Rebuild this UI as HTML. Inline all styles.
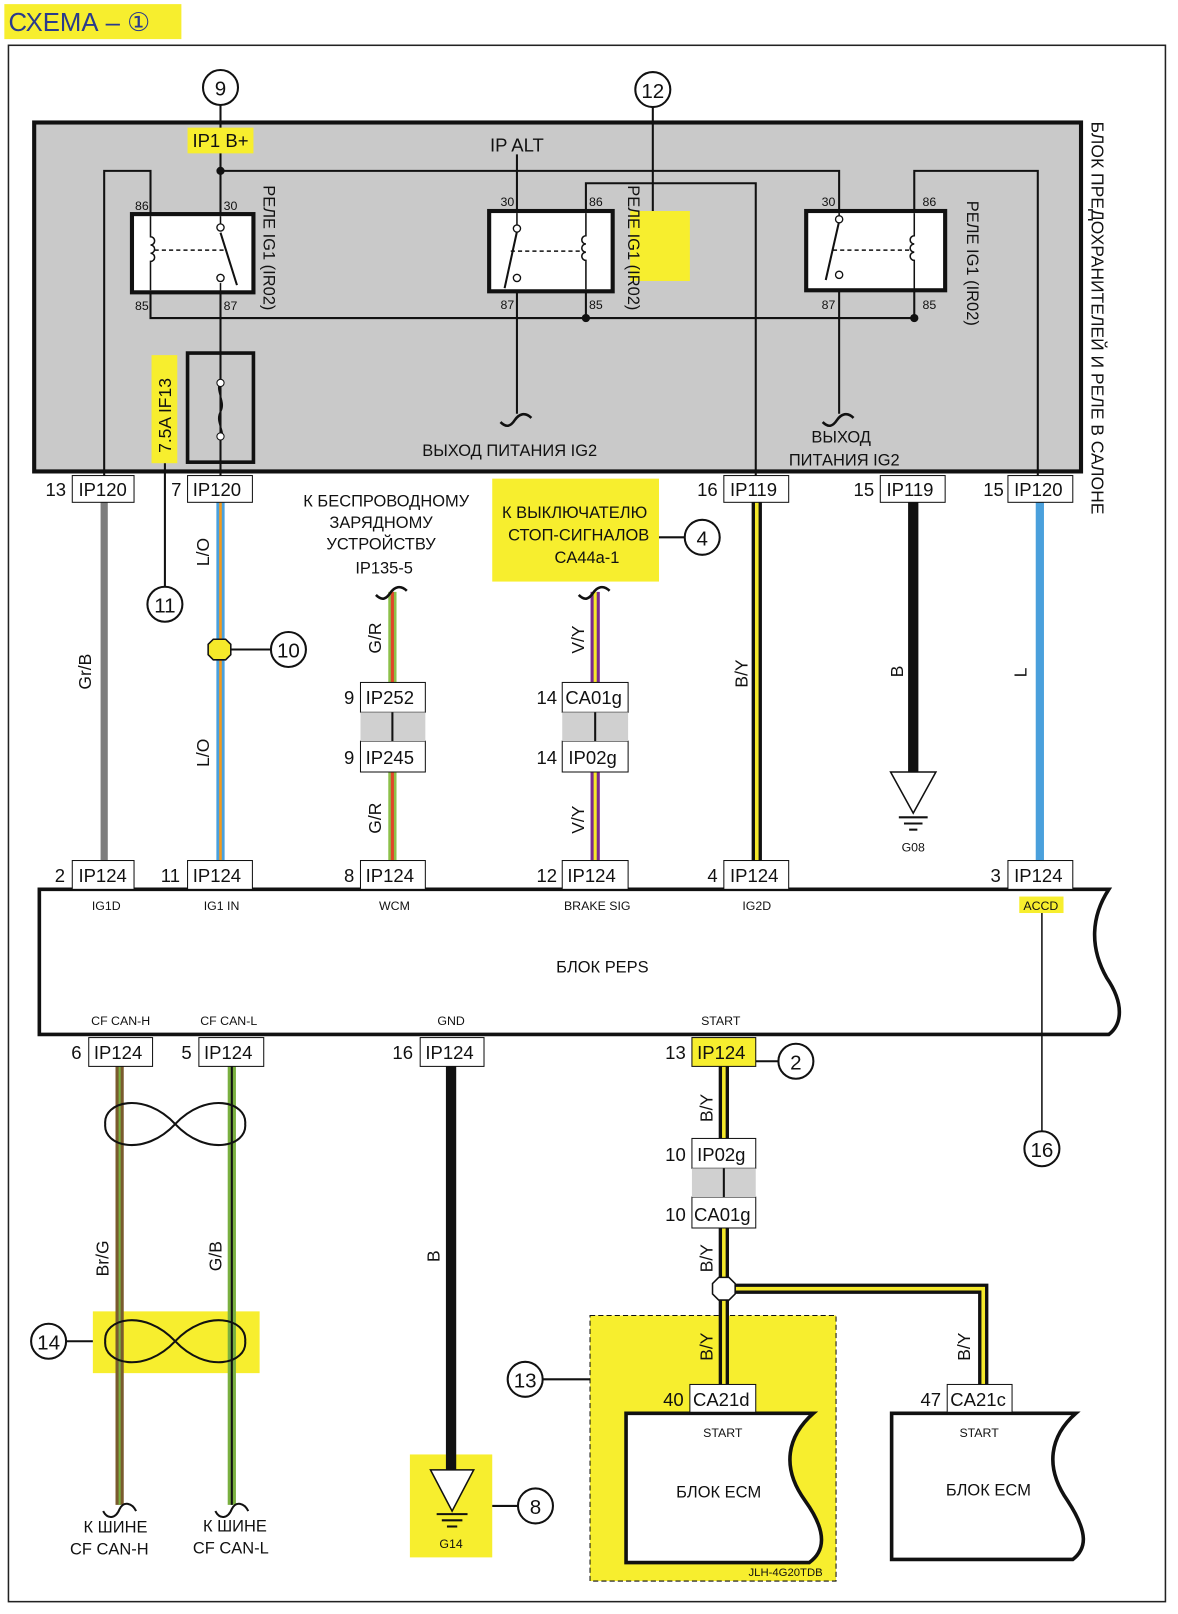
<!DOCTYPE html>
<html><head><meta charset="utf-8"><style>
html,body{margin:0;padding:0;background:#fff}
svg{display:block}
text{font-family:"Liberation Sans","DejaVu Sans",sans-serif;fill:#111}
</style></head><body>
<svg width="1178" height="1614" viewBox="0 0 1144 1568" xmlns="http://www.w3.org/2000/svg">
<!-- title -->
<rect x="4" y="4" width="172" height="34" fill="#f7ee2e"/>
<text x="8" y="30" font-size="25" style="fill:#2a3b8c">СХЕМА – ①</text>
<rect x="8" y="44" width="1124" height="1512" fill="none" stroke="#222" stroke-width="1.5"/>

<!-- yellow dashed area (drawn first) -->
<rect x="573" y="1278" width="239" height="258" fill="#f7ee2e" stroke="#111" stroke-width="1" stroke-dasharray="5,3"/>
<rect x="90" y="1274" width="162" height="60" fill="#f7ee2e"/>
<rect x="398" y="1413" width="80" height="100" fill="#f7ee2e"/>

<!-- top gray block -->
<rect x="33" y="119" width="1017" height="339" fill="#c9c9c9" stroke="#111" stroke-width="4"/>
<text transform="translate(1060,118) rotate(90)" font-size="17">БЛОК ПРЕДОХРАНИТЕЛЕЙ И РЕЛЕ В САЛОНЕ</text>

<!-- circle 9 -->
<line x1="214" y1="102" x2="214" y2="166" stroke="#111" stroke-width="2"/>
<circle cx="214" cy="85" r="17" fill="#fff" stroke="#111" stroke-width="2"/>
<text x="214" y="93" font-size="20" text-anchor="middle">9</text>
<rect x="182" y="124" width="64" height="25" fill="#f7ee2e"/>
<text x="214" y="143" font-size="18" text-anchor="middle">IP1 B+</text>
<text x="502" y="147" font-size="18" text-anchor="middle">IP ALT</text>

<!-- circle 12 -->
<rect x="612" y="205" width="58" height="68" fill="#f7ee2e"/>
<line x1="634" y1="104" x2="634" y2="205" stroke="#111" stroke-width="2"/>
<circle cx="634" cy="87" r="17" fill="#fff" stroke="#111" stroke-width="2"/>
<text x="634" y="95" font-size="20" text-anchor="middle">12</text>

<g stroke="#111" stroke-width="2" fill="none">
<polyline points="101,470 101,166 146,166 146,208"/>
<polyline points="214,166 815,166 815,210"/>
<polyline points="569,205 569,178 734,178 734,462"/>
<polyline points="888,205 888,166 1008,166 1008,462"/>
<line x1="502" y1="150" x2="502" y2="215"/>
<polyline points="146,284 146,309 888,309 888,282"/>
<line x1="569" y1="283" x2="569" y2="309"/>
<line x1="214" y1="166" x2="214" y2="462"/>
<line x1="502" y1="270" x2="502" y2="402"/>
<line x1="815" y1="268" x2="815" y2="402"/>
<path d="M486,410 c6,6 10,4 14,-2 c4,-6 10,-8 16,-2" stroke-width="2.5"/>
<path d="M799,410 c6,6 10,4 14,-2 c4,-6 10,-8 16,-2" stroke-width="2.5"/>
</g>
<circle cx="214" cy="166" r="4" fill="#111"/>
<circle cx="569" cy="309" r="4" fill="#111"/>
<circle cx="888" cy="309" r="4" fill="#111"/>

<!-- relays -->
<g stroke="#111" fill="#fff">
<rect x="128" y="208" width="118" height="76" stroke-width="4"/>
<rect x="475" y="205" width="120" height="78" stroke-width="4"/>
<rect x="783" y="205" width="135" height="77" stroke-width="4"/>
</g>
<g stroke="#111" stroke-width="1.5" fill="none">
<path d="M146,210 v20 a4,4 0 0 1 0,8 a4,4 0 0 1 0,8 a4,4 0 0 1 0,8 v28"/>
<line x1="150" y1="243" x2="218" y2="243" stroke-dasharray="4,3"/>
<line x1="214" y1="210" x2="214" y2="222"/>
<line x1="214" y1="226" x2="230" y2="277" stroke-width="2"/>
<line x1="214" y1="275" x2="214" y2="286"/>
<line x1="502" y1="207" x2="502" y2="225"/>
<line x1="502" y1="225" x2="490" y2="280" stroke-width="2"/>
<line x1="496" y1="244" x2="565" y2="244" stroke-dasharray="4,3"/>
<path d="M569,207 v22 a4,4 0 0 0 0,8 a4,4 0 0 0 0,8 a4,4 0 0 0 0,8 v28"/>
<line x1="815" y1="207" x2="815" y2="215"/>
<line x1="815" y1="215" x2="802" y2="272" stroke-width="2"/>
<line x1="809" y1="243" x2="884" y2="243" stroke-dasharray="4,3"/>
<path d="M888,207 v22 a4,4 0 0 0 0,8 a4,4 0 0 0 0,8 a4,4 0 0 0 0,8 v28"/>
</g>
<g fill="#fff" stroke="#111" stroke-width="1.3">
<circle cx="214" cy="221" r="3.5"/><circle cx="214" cy="270" r="3.5"/>
<circle cx="502" cy="222" r="3.5"/><circle cx="502" cy="270" r="3.5"/>
<circle cx="815" cy="213" r="3.5"/><circle cx="815" cy="267" r="3.5"/>
</g>
<g font-size="12">
<text x="131" y="204">86</text><text x="217" y="204">30</text>
<text x="131" y="301">85</text><text x="217" y="301">87</text>
<text x="486" y="200">30</text><text x="572" y="200">86</text>
<text x="486" y="300">87</text><text x="572" y="300">85</text>
<text x="798" y="200">30</text><text x="896" y="200">86</text>
<text x="798" y="300">87</text><text x="896" y="300">85</text>
</g>
<g font-size="16">
<text transform="translate(256,180) rotate(90)">РЕЛЕ IG1 (IR02)</text>
<text transform="translate(610,180) rotate(90)">РЕЛЕ IG1 (IR02)</text>
<text transform="translate(939,195) rotate(90)">РЕЛЕ IG1 (IR02)</text>
</g>

<!-- fuse -->
<rect x="182" y="343" width="64" height="106" fill="none" stroke="#111" stroke-width="3.5"/>
<path d="M214,370 c-6,10 6,20 0,30 c-6,10 6,20 0,26" stroke="#111" stroke-width="1.5" fill="none"/>
<circle cx="214" cy="372" r="3.5" fill="#fff" stroke="#111"/><circle cx="214" cy="424" r="3.5" fill="#fff" stroke="#111"/>
<rect x="147" y="345" width="25" height="105" fill="#f7ee2e"/>
<text transform="translate(166,440) rotate(-90)" font-size="17">7.5A IF13</text>
<line x1="160" y1="450" x2="160" y2="570" stroke="#111" stroke-width="2"/>
<circle cx="160" cy="587" r="17" fill="#fff" stroke="#111" stroke-width="2"/>
<text x="160" y="595" font-size="20" text-anchor="middle">11</text>

<text x="495" y="443" font-size="16" text-anchor="middle">ВЫХОД ПИТАНИЯ IG2</text>
<text x="817" y="430" font-size="16" text-anchor="middle">ВЫХОД</text>
<text x="820" y="452" font-size="16" text-anchor="middle">ПИТАНИЯ IG2</text>

<!-- wires middle section -->
<line x1="101" y1="488" x2="101" y2="836" stroke="#7d7d7d" stroke-width="7"/>
<line x1="214" y1="488" x2="214" y2="836" stroke="#4aa0dc" stroke-width="8"/>
<line x1="214" y1="488" x2="214" y2="836" stroke="#f39a1e" stroke-width="2.5"/>
<line x1="381" y1="575" x2="381" y2="836" stroke="#8cc04a" stroke-width="8"/>
<line x1="381" y1="575" x2="381" y2="836" stroke="#e0452a" stroke-width="3"/>
<line x1="578" y1="575" x2="578" y2="836" stroke="#7a2a8c" stroke-width="9"/>
<line x1="578" y1="575" x2="578" y2="836" stroke="#f5e92a" stroke-width="3"/>
<line x1="735" y1="488" x2="735" y2="836" stroke="#111" stroke-width="10"/>
<line x1="735" y1="488" x2="735" y2="836" stroke="#f5e92a" stroke-width="3.5"/>
<line x1="887" y1="488" x2="887" y2="752" stroke="#111" stroke-width="10"/>
<line x1="1010" y1="488" x2="1010" y2="836" stroke="#4aa0dc" stroke-width="8"/>
<g stroke="#111" stroke-width="2.5" fill="none">
<path d="M365,578 c6,6 10,4 14,-2 c4,-6 10,-8 16,-2"/>
<path d="M562,578 c6,6 10,4 14,-2 c4,-6 10,-8 16,-2"/>
</g>
<polygon points="865,750 909,750 887,790" fill="#fff" stroke="#111" stroke-width="1.5"/>
<g stroke="#111" stroke-width="2"><line x1="873" y1="794" x2="901" y2="794"/><line x1="878" y1="800" x2="896" y2="800"/><line x1="883" y1="806" x2="891" y2="806"/></g>
<text x="887" y="827" font-size="12" text-anchor="middle">G08</text>

<polygon points="207,621 219,621 224,626 224,636 219,641 207,641 202,636 202,626" fill="#f5e92a" stroke="#111" stroke-width="1.5"/>
<line x1="224" y1="631" x2="263" y2="631" stroke="#111" stroke-width="2"/>
<circle cx="280" cy="631" r="17" fill="#fff" stroke="#111" stroke-width="2"/>
<text x="280" y="639" font-size="20" text-anchor="middle">10</text>

<g font-size="17">
<text transform="translate(88,670) rotate(-90)">Gr/B</text>
<text transform="translate(203,550) rotate(-90)">L/O</text>
<text transform="translate(203,745) rotate(-90)">L/O</text>
<text transform="translate(370,635) rotate(-90)">G/R</text>
<text transform="translate(370,810) rotate(-90)">G/R</text>
<text transform="translate(567,635) rotate(-90)">V/Y</text>
<text transform="translate(567,810) rotate(-90)">V/Y</text>
<text transform="translate(726,668) rotate(-90)">B/Y</text>
<text transform="translate(877,658) rotate(-90)">B</text>
<text transform="translate(997,658) rotate(-90)">L</text>
</g>

<g font-size="16" text-anchor="middle">
<text x="375" y="492">К БЕСПРОВОДНОМУ</text>
<text x="370" y="513">ЗАРЯДНОМУ</text>
<text x="370" y="534">УСТРОЙСТВУ</text>
<text x="373" y="557">IP135-5</text>
</g>
<rect x="478" y="465" width="162" height="100" fill="#f7ee2e"/>
<g font-size="16" text-anchor="middle">
<text x="558" y="503">К ВЫКЛЮЧАТЕЛЮ</text>
<text x="562" y="525">СТОП-СИГНАЛОВ</text>
<text x="570" y="547">CA44a-1</text>
</g>
<line x1="640" y1="522" x2="665" y2="522" stroke="#111" stroke-width="2"/>
<circle cx="682" cy="522" r="17" fill="#fff" stroke="#111" stroke-width="2"/>
<text x="682" y="530" font-size="20" text-anchor="middle">4</text>

<!-- bottom wires -->
<line x1="116" y1="1036" x2="116" y2="1462" stroke="#7a5a2e" stroke-width="8"/>
<line x1="116" y1="1036" x2="116" y2="1462" stroke="#7ab040" stroke-width="2"/>
<line x1="225" y1="1036" x2="225" y2="1462" stroke="#7ab040" stroke-width="8"/>
<line x1="225" y1="1036" x2="225" y2="1462" stroke="#111" stroke-width="2"/>
<g stroke="#111" stroke-width="2" fill="none">
<path d="M170,1092 C140,1060 100,1070 102,1092 C100,1114 140,1124 170,1092 C200,1060 240,1070 238,1092 C240,1114 200,1124 170,1092 Z"/>
<path d="M170,1303 C140,1271 100,1281 102,1303 C100,1325 140,1335 170,1303 C200,1271 240,1281 238,1303 C240,1325 200,1335 170,1303 Z"/>
<path d="M100,1468 c4,8 12,8 16,-2 c4,-8 12,-6 16,2"/>
<path d="M209,1468 c4,8 12,8 16,-2 c4,-8 12,-6 16,2"/>
</g>
<line x1="64" y1="1303" x2="90" y2="1303" stroke="#111" stroke-width="2"/>
<circle cx="47" cy="1303" r="17" fill="#fff" stroke="#111" stroke-width="2"/>
<text x="47" y="1311" font-size="20" text-anchor="middle">14</text>

<line x1="438" y1="1036" x2="438" y2="1430" stroke="#111" stroke-width="10"/>
<polygon points="418,1428 460,1428 439,1468" fill="#fff" stroke="#111" stroke-width="1.5"/>
<g stroke="#111" stroke-width="2"><line x1="424" y1="1471" x2="454" y2="1471"/><line x1="429" y1="1477" x2="449" y2="1477"/><line x1="434" y1="1483" x2="444" y2="1483"/></g>
<text x="438" y="1504" font-size="12" text-anchor="middle">G14</text>
<line x1="478" y1="1463" x2="503" y2="1463" stroke="#111" stroke-width="2"/>
<circle cx="520" cy="1463" r="17" fill="#fff" stroke="#111" stroke-width="2"/>
<text x="520" y="1471" font-size="20" text-anchor="middle">8</text>

<line x1="527" y1="1340" x2="573" y2="1340" stroke="#111" stroke-width="2"/>
<circle cx="510" cy="1340" r="17" fill="#fff" stroke="#111" stroke-width="2"/>
<text x="510" y="1348" font-size="20" text-anchor="middle">13</text>
<g fill="none">
<path d="M703,1036 V1106 M703,1193 V1345 M703,1252 H955 V1345" stroke="#111" stroke-width="10"/>
<path d="M703,1036 V1106 M703,1193 V1345 M703,1252 H955 V1345" stroke="#f5e92a" stroke-width="3.5"/>
</g>
<polygon points="698,1241 708,1241 714,1247 714,1257 708,1263 698,1263 692,1257 692,1247" fill="#fff" stroke="#111" stroke-width="1.5"/>
<line x1="734" y1="1031" x2="756" y2="1031" stroke="#111" stroke-width="2"/>
<circle cx="773" cy="1031" r="17" fill="#fff" stroke="#111" stroke-width="2"/>
<text x="773" y="1039" font-size="20" text-anchor="middle">2</text>

<g font-size="17">
<text transform="translate(105,1240) rotate(-90)">Br/G</text>
<text transform="translate(215,1235) rotate(-90)">G/B</text>
<text transform="translate(427,1226) rotate(-90)">B</text>
<text transform="translate(692,1090) rotate(-90)">B/Y</text>
<text transform="translate(692,1236) rotate(-90)">B/Y</text>
<text transform="translate(692,1322) rotate(-90)">B/Y</text>
<text transform="translate(942,1322) rotate(-90)">B/Y</text>
</g>
<g font-size="16" text-anchor="middle">
<text x="112" y="1489">К ШИНЕ</text><text x="106" y="1510">CF CAN-H</text>
<text x="228" y="1488">К ШИНЕ</text><text x="224" y="1509">CF CAN-L</text>
</g>

<!-- PEPS block -->
<path d="M38,864 H1077 C1060,890 1058,920 1075,950 C1092,975 1090,995 1077,1005 H38 Z" fill="#fff" stroke="#111" stroke-width="3.5"/>
<g font-size="12" text-anchor="middle">
<text x="103" y="884">IG1D</text><text x="215" y="884">IG1 IN</text><text x="383" y="884">WCM</text>
<text x="580" y="884">BRAKE SIG</text><text x="735" y="884">IG2D</text>
<text x="117" y="996">CF CAN-H</text><text x="222" y="996">CF CAN-L</text><text x="438" y="996">GND</text><text x="700" y="996">START</text>
</g>
<rect x="990" y="871" width="43" height="16" fill="#f7ee2e"/>
<text x="1011" y="884" font-size="12" text-anchor="middle">ACCD</text>
<text x="585" y="945" font-size="16" text-anchor="middle">БЛОК PEPS</text>
<line x1="1012" y1="887" x2="1012" y2="1099" stroke="#111" stroke-width="1.5"/>
<circle cx="1012" cy="1116" r="17" fill="#fff" stroke="#111" stroke-width="2"/>
<text x="1012" y="1124" font-size="20" text-anchor="middle">16</text>

<!-- ECM blocks -->
<path d="M608,1373 H790 C765,1395 758,1425 782,1458 C805,1490 800,1508 786,1518 H608 Z" fill="#fff" stroke="#111" stroke-width="3.5"/>
<path d="M866,1373 H1045 C1020,1395 1014,1425 1037,1458 C1058,1490 1055,1505 1042,1515 H866 Z" fill="#fff" stroke="#111" stroke-width="3.5"/>
<g text-anchor="middle">
<text x="702" y="1396" font-size="12">START</text>
<text x="698" y="1455" font-size="16">БЛОК ECM</text>
<text x="951" y="1396" font-size="12">START</text>
<text x="960" y="1453" font-size="16">БЛОК ECM</text>
<text x="763" y="1531" font-size="11">JLH-4G20TDB</text>
</g>

<!-- connectors -->
<g fill="#fff" stroke="#111" stroke-width="1">
<rect x="70" y="462" width="60" height="26"/><rect x="182" y="462" width="63" height="26"/>
<rect x="703" y="462" width="63" height="26"/><rect x="855" y="462" width="63" height="26"/><rect x="979" y="462" width="63" height="26"/>
<rect x="350" y="663" width="63" height="29"/><rect x="350" y="720" width="63" height="30"/>
<rect x="546" y="663" width="64" height="29"/><rect x="546" y="720" width="64" height="30"/>
<rect x="70" y="836" width="60" height="28"/><rect x="182" y="836" width="63" height="28"/><rect x="350" y="836" width="63" height="28"/>
<rect x="546" y="836" width="64" height="28"/><rect x="703" y="836" width="63" height="28"/><rect x="979" y="836" width="63" height="28"/>
<rect x="86" y="1008" width="62" height="28"/><rect x="193" y="1008" width="63" height="28"/><rect x="408" y="1008" width="62" height="28"/>
<rect x="672" y="1008" width="62" height="28" fill="#f7ee2e"/>
<rect x="672" y="1106" width="62" height="29"/><rect x="672" y="1163" width="62" height="30"/>
<rect x="670" y="1345" width="64" height="27"/><rect x="920" y="1345" width="63" height="27"/>
</g>
<g fill="#d0d0d0"><rect x="350" y="692" width="63" height="28"/><rect x="546" y="692" width="64" height="28"/><rect x="672" y="1135" width="62" height="28"/></g>
<g stroke="#111" stroke-width="2"><line x1="381" y1="692" x2="381" y2="720"/><line x1="578" y1="692" x2="578" y2="720"/><line x1="703" y1="1135" x2="703" y2="1163"/></g>
<g font-size="18">
<text x="44" y="482">13</text><text x="76" y="482">IP120</text>
<text x="166" y="482">7</text><text x="187" y="482">IP120</text>
<text x="677" y="482">16</text><text x="709" y="482">IP119</text>
<text x="829" y="482">15</text><text x="861" y="482">IP119</text>
<text x="955" y="482">15</text><text x="985" y="482">IP120</text>
<text x="334" y="684">9</text><text x="355" y="684">IP252</text>
<text x="334" y="742">9</text><text x="355" y="742">IP245</text>
<text x="521" y="684">14</text><text x="549" y="684">CA01g</text>
<text x="521" y="742">14</text><text x="552" y="742">IP02g</text>
<text x="53" y="857">2</text><text x="76" y="857">IP124</text>
<text x="156" y="857">11</text><text x="187" y="857">IP124</text>
<text x="334" y="857">8</text><text x="355" y="857">IP124</text>
<text x="521" y="857">12</text><text x="551" y="857">IP124</text>
<text x="687" y="857">4</text><text x="709" y="857">IP124</text>
<text x="962" y="857">3</text><text x="985" y="857">IP124</text>
<text x="69" y="1029">6</text><text x="91" y="1029">IP124</text>
<text x="176" y="1029">5</text><text x="198" y="1029">IP124</text>
<text x="381" y="1029">16</text><text x="413" y="1029">IP124</text>
<text x="646" y="1029">13</text><text x="677" y="1029">IP124</text>
<text x="646" y="1128">10</text><text x="677" y="1128">IP02g</text>
<text x="646" y="1186">10</text><text x="674" y="1186">CA01g</text>
<text x="644" y="1366">40</text><text x="673" y="1366">CA21d</text>
<text x="894" y="1366">47</text><text x="923" y="1366">CA21c</text>
</g>
</svg>
</body></html>
